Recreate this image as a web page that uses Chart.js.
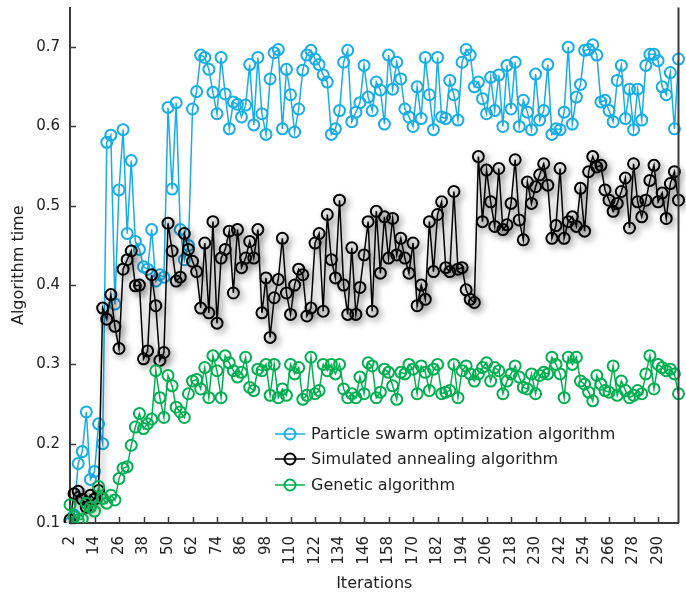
<!DOCTYPE html>
<html>
<head>
<meta charset="utf-8">
<script src="https://cdn.jsdelivr.net/npm/chart.js@4.4.1/dist/chart.umd.min.js"></script>
<style>
  html, body { margin: 0; padding: 0; background: #fff; }
  #wrap { width: 686px; height: 597px; }
</style>
</head>
<body>
<div id="wrap"><canvas id="timeChart" width="686" height="597"></canvas></div>
<script>
const iterations = [
  2, 4, 6, 8, 10, 12, 14, 16, 18, 20, 22, 24, 26, 28, 30, 32, 34, 36, 38, 40,
  42, 44, 46, 48, 50, 52, 54, 56, 58, 60, 62, 64, 66, 68, 70, 72, 74, 76, 78, 80,
  82, 84, 86, 88, 90, 92, 94, 96, 98, 100, 102, 104, 106, 108, 110, 112, 114, 116, 118, 120,
  122, 124, 126, 128, 130, 132, 134, 136, 138, 140, 142, 144, 146, 148, 150, 152, 154, 156, 158, 160,
  162, 164, 166, 168, 170, 172, 174, 176, 178, 180, 182, 184, 186, 188, 190, 192, 194, 196, 198, 200,
  202, 204, 206, 208, 210, 212, 214, 216, 218, 220, 222, 224, 226, 228, 230, 232, 234, 236, 238, 240,
  242, 244, 246, 248, 250, 252, 254, 256, 258, 260, 262, 264, 266, 268, 270, 272, 274, 276, 278, 280,
  282, 284, 286, 288, 290, 292, 294, 296, 298, 300,
];

// Particle swarm optimization algorithm
const psoTime = [
  0.10, 0.11, 0.175, 0.19, 0.24, 0.155, 0.165, 0.225, 0.20, 0.58,
  0.589, 0.376, 0.52, 0.596, 0.465, 0.557, 0.455, 0.445, 0.423, 0.42,
  0.47, 0.405, 0.413, 0.41, 0.624, 0.521, 0.63, 0.47, 0.432, 0.45,
  0.622, 0.644, 0.69, 0.687, 0.672, 0.643, 0.616, 0.687, 0.641, 0.597,
  0.631, 0.628, 0.612, 0.627, 0.678, 0.602, 0.687, 0.616, 0.59, 0.66,
  0.693, 0.697, 0.597, 0.672, 0.64, 0.593, 0.622, 0.671, 0.69, 0.696,
  0.685, 0.678, 0.665, 0.656, 0.59, 0.597, 0.62, 0.681, 0.696, 0.606,
  0.618, 0.63, 0.677, 0.637, 0.62, 0.656, 0.646, 0.603, 0.69, 0.647,
  0.681, 0.66, 0.622, 0.612, 0.6, 0.65, 0.61, 0.687, 0.64, 0.596,
  0.687, 0.612, 0.61, 0.658, 0.64, 0.608, 0.681, 0.697, 0.69, 0.65,
  0.656, 0.635, 0.616, 0.662, 0.62, 0.665, 0.6, 0.677, 0.622, 0.681,
  0.6, 0.633, 0.618, 0.596, 0.666, 0.608, 0.62, 0.678, 0.59, 0.597,
  0.596, 0.618, 0.7, 0.603, 0.637, 0.653, 0.696, 0.697, 0.703, 0.69,
  0.631, 0.633, 0.62, 0.606, 0.658, 0.677, 0.61, 0.647, 0.596, 0.647,
  0.608, 0.677, 0.691, 0.691, 0.683, 0.65, 0.64, 0.668, 0.597, 0.685,
];

// Simulated annealing algorithm
const saTime = [
  0.104, 0.137, 0.14, 0.13, 0.12, 0.135, 0.13, 0.141, 0.371, 0.357,
  0.388, 0.348, 0.32, 0.42, 0.432, 0.443, 0.399, 0.40, 0.307, 0.317,
  0.413, 0.374, 0.305, 0.315, 0.478, 0.443, 0.405, 0.41, 0.465, 0.445,
  0.43, 0.417, 0.371, 0.453, 0.365, 0.48, 0.352, 0.434, 0.445, 0.468,
  0.39, 0.47, 0.422, 0.434, 0.455, 0.434, 0.47, 0.365, 0.409, 0.334,
  0.384, 0.407, 0.459, 0.39, 0.363, 0.4, 0.42, 0.413, 0.361, 0.371,
  0.453, 0.465, 0.367, 0.489, 0.432, 0.409, 0.507, 0.4, 0.363, 0.447,
  0.363, 0.397, 0.438, 0.48, 0.367, 0.493, 0.415, 0.486, 0.434, 0.484,
  0.438, 0.459, 0.434, 0.415, 0.453, 0.374, 0.4, 0.382, 0.48, 0.417,
  0.489, 0.505, 0.422, 0.417, 0.518, 0.42, 0.422, 0.394, 0.382, 0.378,
  0.562, 0.48, 0.545, 0.505, 0.474, 0.547, 0.47, 0.476, 0.503, 0.558,
  0.482, 0.457, 0.53, 0.503, 0.524, 0.539, 0.553, 0.526, 0.459, 0.475,
  0.547, 0.459, 0.48, 0.486, 0.474, 0.522, 0.468, 0.543, 0.562, 0.549,
  0.551, 0.52, 0.507, 0.493, 0.503, 0.518, 0.535, 0.472, 0.553, 0.505,
  0.486, 0.507, 0.532, 0.551, 0.505, 0.516, 0.484, 0.528, 0.543, 0.507,
];

// Genetic algorithm
const gaTime = [
  0.123, 0.108, 0.104, 0.105, 0.125, 0.12, 0.115, 0.146, 0.131, 0.125,
  0.135, 0.129, 0.156, 0.169, 0.171, 0.198, 0.221, 0.238, 0.219, 0.225,
  0.231, 0.292, 0.258, 0.233, 0.286, 0.273, 0.246, 0.24, 0.233, 0.263,
  0.279, 0.281, 0.269, 0.296, 0.258, 0.311, 0.292, 0.258, 0.311, 0.302,
  0.292, 0.284, 0.29, 0.309, 0.271, 0.267, 0.294, 0.292, 0.3, 0.261,
  0.3, 0.258, 0.269, 0.261, 0.3, 0.288, 0.296, 0.256, 0.261, 0.309,
  0.263, 0.267, 0.3, 0.292, 0.3, 0.288, 0.3, 0.269, 0.258, 0.263,
  0.258, 0.284, 0.263, 0.302, 0.298, 0.258, 0.265, 0.294, 0.29, 0.273,
  0.256, 0.29, 0.288, 0.3, 0.294, 0.263, 0.298, 0.29, 0.267, 0.294,
  0.3, 0.263, 0.265, 0.267, 0.3, 0.258, 0.292, 0.298, 0.288, 0.279,
  0.288, 0.296, 0.302, 0.279, 0.296, 0.292, 0.263, 0.279, 0.288, 0.298,
  0.284, 0.271, 0.269, 0.288, 0.263, 0.286, 0.29, 0.288, 0.309, 0.3,
  0.288, 0.258, 0.309, 0.3, 0.309, 0.279, 0.275, 0.265, 0.254, 0.286,
  0.275, 0.267, 0.265, 0.298, 0.261, 0.279, 0.267, 0.258, 0.261, 0.267,
  0.263, 0.288, 0.311, 0.269, 0.3, 0.296, 0.292, 0.294, 0.288, 0.263,
];

const yTickValues = [0.1, 0.2, 0.3, 0.4, 0.5, 0.6, 0.7];
const seriesNames = [
  "Particle swarm optimization algorithm",
  "Simulated annealing algorithm",
  "Genetic algorithm",
];
const seriesColors = ["#17ade6", "#000000", "#00b050"];

const FONT = "'DejaVu Sans', Verdana, sans-serif";
const TEXT = "#222222";
const AXIS = "#3a3a3a";

function makeDataset(i, values, order) {
  return {
    label: seriesNames[i],
    data: values,
    borderColor: seriesColors[i],
    backgroundColor: "rgba(0,0,0,0)",
    borderWidth: 1.5,
    pointRadius: 5.5,
    pointBorderWidth: 2,
    pointBorderColor: seriesColors[i],
    pointBackgroundColor: "rgba(0,0,0,0)",
    tension: 0,
    order: order,
  };
}

// soft drop shadow under the simulated annealing series
const shadowPlugin = {
  id: "saShadow",
  beforeDatasetDraw(chart, args) {
    if (args.index !== 1) return;
    const ctx = chart.ctx;
    ctx.save();
    ctx.shadowColor = "rgba(0,0,0,0.55)";
    ctx.shadowBlur = 6;
    ctx.shadowOffsetX = 3;
    ctx.shadowOffsetY = 3;
  },
  afterDatasetDraw(chart, args) {
    if (args.index !== 1) return;
    chart.ctx.restore();
  },
};

// inward tick marks, right frame line and the in-plot legend
const framePlugin = {
  id: "frame",
  afterDraw(chart) {
    const ctx = chart.ctx;
    const area = chart.chartArea;
    const x = chart.scales.x;
    const y = chart.scales.y;
    ctx.save();
    ctx.strokeStyle = AXIS;
    ctx.lineWidth = 2;
    ctx.beginPath();
    ctx.moveTo(area.right, area.top);
    ctx.lineTo(area.right, area.bottom);
    ctx.stroke();

    ctx.lineWidth = 1.5;
    ctx.beginPath();
    yTickValues.forEach((v) => {
      const py = Math.round(y.getPixelForValue(v)) + 0.5;
      ctx.moveTo(area.left, py);
      ctx.lineTo(area.left + 6, py);
    });
    iterations.forEach((it, i) => {
      if (i % 6 !== 0) return;
      const px = Math.round(x.getPixelForValue(i)) + 0.5;
      ctx.moveTo(px, area.bottom);
      ctx.lineTo(px, area.bottom - 6);
    });
    ctx.stroke();

    // legend
    const lx = 275;
    const rows = [434, 459, 485];
    ctx.font = "16px " + FONT;
    ctx.textBaseline = "middle";
    seriesNames.forEach((name, i) => {
      const ry = rows[i];
      ctx.strokeStyle = seriesColors[i];
      ctx.lineWidth = 1.5;
      ctx.beginPath();
      ctx.moveTo(lx, ry);
      ctx.lineTo(lx + 30, ry);
      ctx.stroke();
      ctx.lineWidth = 2;
      ctx.beginPath();
      ctx.arc(lx + 15, ry, 5.5, 0, Math.PI * 2);
      ctx.stroke();
      ctx.fillStyle = TEXT;
      ctx.fillText(name, lx + 36, ry + 1);
    });
    ctx.restore();
  },
};

new Chart(document.getElementById("timeChart"), {
  type: "line",
  data: {
    labels: iterations,
    datasets: [
      makeDataset(0, psoTime, 3),
      makeDataset(1, saTime, 2),
      makeDataset(2, gaTime, 1),
    ],
  },
  options: {
    responsive: false,
    animation: false,
    layout: { padding: { top: 5, right: 1, left: 0, bottom: 0 } },
    plugins: {
      legend: { display: false },
      tooltip: { enabled: false },
    },
    scales: {
      x: {
        type: "category",
        offset: false,
        grid: { display: false },
        border: { display: true, color: AXIS, width: 2 },
        afterFit: (scale) => {
          scale.height = 74;
          scale.paddingLeft = 0;
          scale.paddingRight = 0;
        },
        ticks: {
          autoSkip: false,
          maxRotation: 90,
          minRotation: 90,
          padding: 5,
          color: TEXT,
          font: { family: FONT, size: 15 },
          callback: (value, index) => (index % 6 === 0 ? String(iterations[index]) : ""),
        },
        title: {
          display: true,
          text: "Iterations",
          color: TEXT,
          font: { family: FONT, size: 16 },
          padding: { top: 0, bottom: 4 },
        },
      },
      y: {
        min: 0.1,
        max: 0.75,
        grid: { display: false },
        border: { display: true, color: AXIS, width: 2 },
        afterFit: (scale) => {
          scale.width = 70;
          scale.paddingTop = 0;
          scale.paddingBottom = 0;
        },
        afterBuildTicks: (scale) => {
          scale.ticks = yTickValues.map((v) => ({ value: v }));
        },
        ticks: {
          padding: 2,
          color: TEXT,
          font: { family: FONT, size: 15 },
          callback: (value) => Number(value).toFixed(1),
        },
        title: {
          display: true,
          text: "Algorithm time",
          color: TEXT,
          font: { family: FONT, size: 16 },
          padding: { top: 9, bottom: 0 },
        },
      },
    },
  },
  plugins: [shadowPlugin, framePlugin],
});
</script>
</body>
</html>
